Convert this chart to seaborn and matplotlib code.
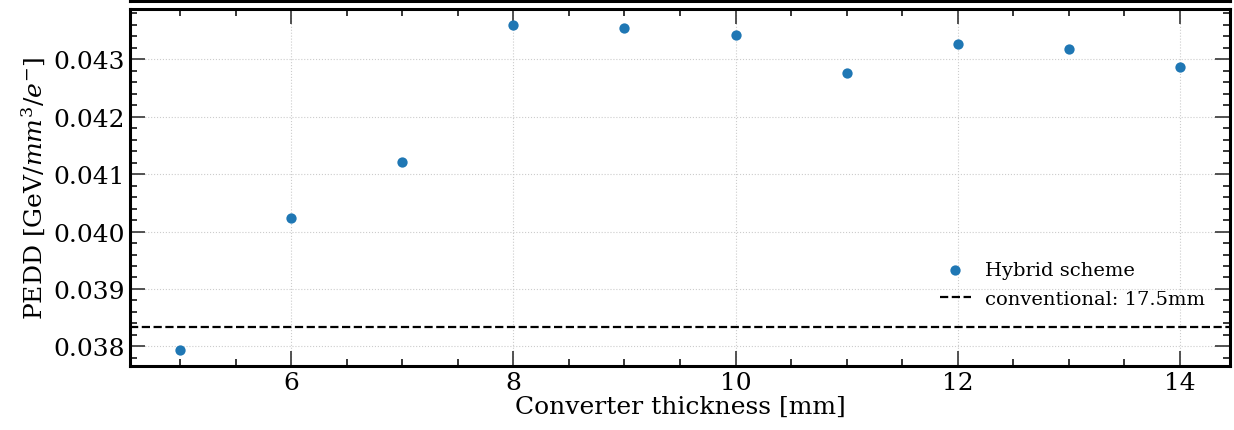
import numpy as np
import pandas as pd
import seaborn as sns
import matplotlib
matplotlib.use("Agg")
import matplotlib.pyplot as plt
from matplotlib.ticker import MultipleLocator, AutoMinorLocator

# data
thickness = [5, 6, 7, 8, 9, 10, 11, 12, 13, 14]
pedd = [0.03794, 0.040235, 0.041215, 0.043595, 0.043543, 0.04342,
        0.042755, 0.043262, 0.043175, 0.042865]
conventional_pedd = 0.038345

df = pd.DataFrame({"thickness": thickness, "pedd": pedd})

sns.set_theme(style="ticks")
plt.rcParams["font.family"] = ["DejaVu Serif"]
plt.rcParams["mathtext.fontset"] = "dejavuserif"
plt.rcParams["text.color"] = "black"
plt.rcParams["axes.labelcolor"] = "black"
plt.rcParams["xtick.labelcolor"] = "black"
plt.rcParams["ytick.labelcolor"] = "black"

fig = plt.figure(figsize=(12.34, 4.31), dpi=100)
ax = fig.add_axes([130 / 1234, 64 / 431, 1100 / 1234, 357 / 431])

# bottom edge of the panel above (cropped in the reference)
ax_top = fig.add_axes([130 / 1234, 1 - 1.5 / 431, 1100 / 1234, 0.3])
ax_top.set_xlim(4.55, 14.45)
ax_top.set_xticklabels([])
ax_top.set_yticks([])
for s in ax_top.spines.values():
    s.set_linewidth(2.2)
    s.set_color("black")
ax_top.tick_params(axis="x", direction="in", length=10, width=1.2)

sns.scatterplot(data=df, x="thickness", y="pedd", ax=ax, s=55, linewidth=0,
                color="#1f77b4", label="Hybrid scheme", zorder=3)
ax.axhline(conventional_pedd, color="black", ls="--", lw=1.6,
           label="conventional: 17.5mm")

ax.xaxis.set_major_locator(MultipleLocator(2))
ax.xaxis.set_minor_locator(AutoMinorLocator(4))
ax.yaxis.set_major_locator(MultipleLocator(0.001))
ax.yaxis.set_minor_locator(AutoMinorLocator(5))
ax.tick_params(which="both", direction="in", top=True, right=True, labelsize=18)
ax.tick_params(which="major", length=11, width=1.3, color="#444444")
ax.tick_params(which="minor", length=5, width=1.1, color="black")
ax.grid(True, which="major", ls=":", lw=0.8, color="#cccccc")
for s in ax.spines.values():
    s.set_linewidth(2.2)
    s.set_color("black")

ax.set_xlabel("Converter thickness [mm]", fontsize=18, labelpad=1)
ax.set_ylabel(r"PEDD [GeV/$mm^3/e^{-}$]", fontsize=18, labelpad=4)

ax.legend(loc="lower right", bbox_to_anchor=(0.99, 0.125), frameon=False,
          fontsize=14, handlelength=1.6, handletextpad=0.75, borderpad=0.2,
          labelspacing=0.55)

fig.savefig("out.png", dpi=100)
